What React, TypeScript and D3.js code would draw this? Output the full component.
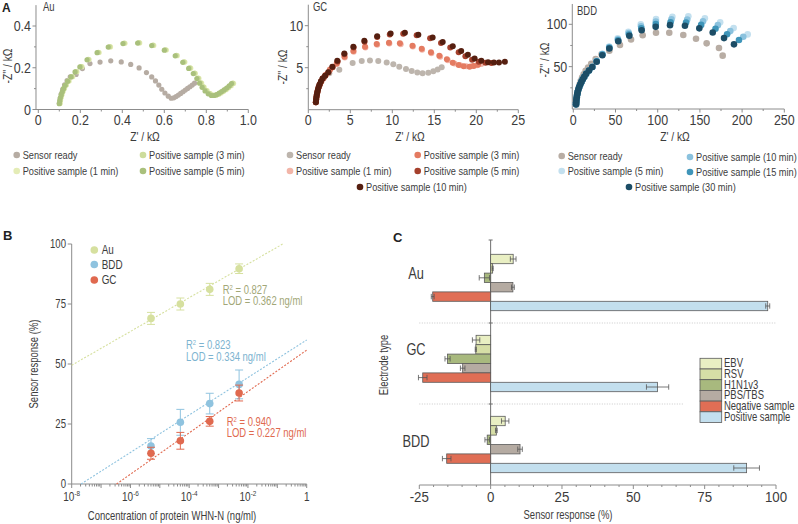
import React from 'react';
import * as d3 from 'd3';

type Pt = [number, number];
const FONT = "'Liberation Sans',Arial,sans-serif";
const TXT = '#3c3c3c';
const AX = '#8c8c8c';

// ---------------- Panel A : Au ----------------
const auNames = ['Sensor ready', 'Positive sample (1 min)', 'Positive sample (3 min)', 'Positive sample (5 min)'];
const auColors = ['#b6aca3', '#e4ecb6', '#cddc9c', '#a9c07c'];
const auSensorReady: Pt[] = [[0.100,0.030],[0.104,0.052],[0.109,0.074],[0.116,0.096],[0.125,0.118],[0.137,0.138],[0.152,0.156],[0.180,0.168],[0.210,0.196],[0.246,0.220],[0.294,0.227],[0.345,0.233],[0.395,0.228],[0.440,0.216],[0.480,0.199],[0.515,0.177],[0.540,0.156],[0.558,0.137],[0.574,0.117],[0.588,0.097],[0.603,0.079],[0.619,0.064],[0.633,0.054],[0.645,0.056],[0.656,0.062],[0.667,0.069],[0.678,0.077],[0.689,0.085],[0.700,0.093],[0.711,0.101],[0.722,0.109],[0.733,0.117],[0.744,0.126]];
const au1min: Pt[] = [[0.104,0.029],[0.106,0.043],[0.109,0.057],[0.113,0.071],[0.118,0.086],[0.125,0.101],[0.134,0.117],[0.147,0.136],[0.164,0.157],[0.184,0.181],[0.208,0.205],[0.242,0.239],[0.290,0.273],[0.344,0.300],[0.413,0.317],[0.483,0.319],[0.550,0.307],[0.610,0.285],[0.662,0.258],[0.698,0.227],[0.726,0.198],[0.748,0.173],[0.765,0.149],[0.778,0.127],[0.790,0.107],[0.804,0.090],[0.819,0.076],[0.834,0.068],[0.847,0.068],[0.859,0.072],[0.871,0.079],[0.883,0.087],[0.895,0.095],[0.907,0.104],[0.919,0.114],[0.930,0.125]];
const au3min: Pt[] = [[0.102,0.029],[0.104,0.043],[0.107,0.057],[0.111,0.071],[0.116,0.086],[0.122,0.101],[0.131,0.117],[0.143,0.137],[0.160,0.158],[0.180,0.182],[0.204,0.206],[0.238,0.240],[0.286,0.274],[0.340,0.301],[0.409,0.318],[0.479,0.320],[0.546,0.308],[0.606,0.286],[0.658,0.259],[0.694,0.228],[0.722,0.199],[0.744,0.174],[0.761,0.150],[0.774,0.128],[0.786,0.108],[0.800,0.091],[0.815,0.077],[0.830,0.069],[0.843,0.069],[0.855,0.073],[0.867,0.080],[0.879,0.088],[0.891,0.096],[0.903,0.105],[0.915,0.115],[0.926,0.126]];
const au5min: Pt[] = [[0.100,0.028],[0.102,0.042],[0.105,0.056],[0.109,0.070],[0.114,0.085],[0.120,0.100],[0.128,0.116],[0.140,0.135],[0.156,0.156],[0.175,0.180],[0.198,0.204],[0.232,0.238],[0.280,0.272],[0.333,0.299],[0.403,0.316],[0.473,0.318],[0.540,0.306],[0.600,0.284],[0.652,0.257],[0.688,0.226],[0.716,0.197],[0.738,0.172],[0.755,0.148],[0.768,0.126],[0.780,0.106],[0.794,0.089],[0.809,0.075],[0.824,0.067],[0.837,0.067],[0.849,0.071],[0.861,0.078],[0.873,0.086],[0.885,0.094],[0.897,0.103],[0.909,0.113],[0.920,0.124]];

// ---------------- Panel A : GC ----------------
const gcNames = ['Sensor ready', 'Positive sample (1 min)', 'Positive sample (3 min)', 'Positive sample (5 min)', 'Positive sample (10 min)'];
const gcColors = ['#bdb5ad', '#f2b5a8', '#e47b61', '#a5402c', '#561f10'];
const gcSensorReady: Pt[] = [[0.9,0.9],[0.95,1.3],[1.0,1.7],[1.08,2.1],[1.17,2.5],[1.3,2.9],[1.5,3.3],[1.8,3.7],[2.5,4.33],[3.69,4.75],[5.28,5.55],[6.36,5.8],[7.34,5.85],[8.33,5.8],[9.33,5.62],[10.12,5.4],[10.83,5.12],[11.63,4.85],[12.31,4.6],[12.98,4.42],[13.6,4.33],[14.29,4.4],[14.88,4.58],[15.4,4.8],[15.88,5.05]];
const gc1min: Pt[] = [[0.9,0.9],[0.93,1.2],[0.97,1.5],[1.02,1.8],[1.08,2.1],[1.15,2.4],[1.25,2.7],[1.37,3.0],[1.55,3.35],[1.8,3.75],[2.1,4.15],[2.6,4.75],[3.4,5.45],[4.35,6.2],[5.4,6.9],[6.8,7.4],[8.2,7.72],[9.65,7.88],[11.0,7.8],[12.45,7.52],[13.55,7.15],[14.65,6.72],[15.7,6.3],[16.6,5.88],[17.4,5.5],[18.1,5.28],[18.8,5.18],[19.5,5.2],[20.1,5.3],[20.6,5.45]];
const gc3min: Pt[] = [[0.9,0.9],[0.93,1.2],[0.97,1.5],[1.02,1.8],[1.08,2.1],[1.15,2.4],[1.25,2.7],[1.37,3.0],[1.55,3.35],[1.8,3.75],[2.1,4.15],[2.58,4.8],[3.38,5.5],[4.3,6.3],[5.36,7.0],[6.75,7.5],[8.14,7.82],[9.6,7.98],[10.9,7.9],[12.4,7.62],[13.5,7.26],[14.6,6.83],[15.6,6.43],[16.5,6.0],[17.2,5.6],[17.9,5.32],[18.5,5.17],[19.2,5.12],[19.7,5.2],[20.2,5.36]];
const gc5min: Pt[] = [[0.9,0.9],[0.93,1.2],[0.97,1.5],[1.02,1.8],[1.08,2.1],[1.15,2.4],[1.24,2.7],[1.35,3.0],[1.5,3.35],[1.7,3.7],[2.0,4.05],[2.4,4.45],[2.9,5.05],[3.5,5.75],[4.3,6.6],[5.4,7.4],[6.7,8.1],[8.2,8.65],[9.7,8.95],[11.3,9.05],[12.9,8.85],[14.5,8.5],[15.8,7.95],[16.9,7.4],[17.9,6.85],[18.7,6.35],[19.5,5.95],[20.3,5.7],[21.1,5.58],[21.8,5.55]];
const gc10min: Pt[] = [[0.9,0.9],[0.93,1.2],[0.97,1.5],[1.02,1.8],[1.08,2.1],[1.15,2.4],[1.24,2.7],[1.35,3.0],[1.5,3.35],[1.7,3.7],[2.0,4.05],[2.38,4.45],[2.86,5.1],[3.45,5.83],[4.29,6.7],[5.36,7.5],[6.67,8.2],[8.2,8.75],[9.8,9.08],[11.5,9.15],[13.1,8.93],[14.8,8.6],[16.0,8.05],[17.2,7.55],[18.2,7.0],[19.0,6.55],[19.8,6.1],[20.6,5.82],[21.4,5.65],[22.1,5.62],[22.7,5.62],[23.4,5.7]];

// ---------------- Panel A : BDD ----------------
const bddNames = ['Sensor ready', 'Positive sample (5 min)', 'Positive sample (10 min)', 'Positive sample (15 min)', 'Positive sample (30 min)'];
const bddColors = ['#b8ada4', '#c3e0ef', '#8bc2de', '#3f95b9', '#1c4d66'];
const bddSensorReady: Pt[] = [[3.5,5],[3.8,9],[4.2,13],[4.8,17],[5.5,21],[6.4,25],[7.5,29],[8.8,33],[10.4,37],[12.3,41],[14.6,45],[17.5,49],[21.2,53.5],[26.5,59],[33.5,64.5],[42.7,68.8],[55.3,75.5],[68.4,82],[82.2,87],[98,90],[113.7,90],[130.3,87.3],[145.4,83],[158,77.5],[172.6,72],[177,63]];
const bdd5min: Pt[] = [[3.2,5.5],[3.4,8],[3.7,11],[4.1,14],[4.6,17],[5.2,20],[6.0,23],[7.0,26],[8.2,29],[9.6,32],[11.2,35],[13.0,38],[15.2,41.5],[18.6,45.5],[22.5,49.8],[27.7,57],[34.4,65.3],[42.5,73.6],[52.6,83.4],[65.2,91.2],[79.9,99.9],[98,106.1],[117.4,108.8],[136.3,109.5],[155.9,107],[174,102.5],[190,95.5],[206.6,88.1]];
const bdd10min: Pt[] = [[3.2,5.5],[3.4,8],[3.7,11],[4.1,14],[4.6,17],[5.2,20],[6.0,23],[7.0,26],[8.2,29],[9.6,32],[11.2,35],[13.0,38],[15.2,41.5],[18.6,45.5],[22.5,49.7],[27.7,56.6],[34.4,64.8],[42.6,73],[52.9,82.3],[65.6,89.7],[80.3,97.6],[97.8,103.2],[116.3,105.8],[135,105.6],[153.7,103.5],[171.3,99],[186,92],[201.4,85.3]];
const bdd15min: Pt[] = [[3.2,5.5],[3.4,8],[3.7,11],[4.1,14],[4.6,17],[5.2,20],[6.0,23],[7.0,26],[8.2,29],[9.6,32],[11.2,35],[13.0,38],[15.2,41.5],[18.6,45.5],[22.5,49.6],[27.7,56.3],[34.4,64.3],[42.7,72.3],[53.1,81.2],[66,88],[80.6,95.3],[97.7,100.2],[115.2,102.3],[133.6,102],[151.5,99.3],[168.5,94.8],[182.2,88.3],[196.3,81.4]];
const bdd30min: Pt[] = [[3.2,5.5],[3.4,8],[3.7,11],[4.1,14],[4.6,17],[5.2,20],[6.0,23],[7.0,26],[8.2,29],[9.6,32],[11.2,35],[13.0,38],[15.2,41.5],[18.6,45.5],[22.5,49.5],[27.7,55.8],[34.4,63.5],[42.7,71.5],[53.3,80],[66.4,86.5],[81,93],[97.6,97],[114.6,99],[132.3,98.2],[149.3,95.2],[165.2,90.4],[178.6,83.7],[190.4,76.3]];

// ---------------- Panel B ----------------
const bConc = [5e-6, 5e-5, 5e-4, 5e-3];
const bSeries = ['Au', 'BDD', 'GC'];
const bColors = ['#d6e09f', '#8fc3df', '#e0694f'];
const bTextColors = ['#a2a777', '#7db3cf', '#e0694f'];
const bAu = [69.0, 75.0, 81.1, 89.7];
const bAuErr = [2.5, 2.5, 2.5, 2.0];
const bBDD = [15.8, 25.7, 33.5, 41.5];
const bBDDErr = [3.1, 5.4, 4.3, 6.0];
const bGC = [12.8, 18.0, 26.1, 37.9];
const bGCErr = [2.5, 3.5, 2.0, 3.3];
const bFitSlope = [7.03, 7.81, 8.62];      // % per decade
const bFitAtOne = [105.74, 60.0, 55.8];    // value at 1 ng/ml
const bR2 = ['0.827', '0.823', '0.940'];
const bLOD = ['0.362', '0.334', '0.227'];
const bXTicks = [-8, -6, -4, -2, 0];
const bYTicks = [0, 25, 50, 75, 100];

// ---------------- Panel C ----------------
const cGroups = ['Au', 'GC', 'BDD'];
const cCats = ['EBV', 'RSV', 'H1N1v3', 'PBS/TBS', 'Negative sample', 'Positive sample'];
const cColors = ['#e9efc3', '#d6dea6', '#a8b97e', '#b5aba2', '#e06e55', '#c3dfee'];
const cAu = [7.9, 0.7, -2.2, 7.8, -20.3, 97.1];
const cAuErr = [1.0, 0.2, 1.8, 0.5, 0.5, 0.7];
const cGC = [-5.1, -5.2, -15.1, -9.8, -23.8, 58.5];
const cGCErr = [1.3, 0.2, 0.9, 0.8, 1.5, 3.9];
const cBDD = [5.1, 2.0, -1.2, 10.3, -15.4, 89.7];
const cBDDErr = [1.3, 0.3, 0.8, 0.8, 1.5, 4.5];
const cXTicks = [-25, 0, 25, 50, 75, 100];

// condensed text: Liberation Sans squeezed horizontally
function T(props: { x: number; y: number; size: number; anchor?: string; fill?: string; sx?: number; rot?: number; weight?: string; children: React.ReactNode }) {
  const { x, y, size, anchor = 'start', fill = TXT, sx = 0.79, rot = 0, weight, children } = props;
  return (
    <text transform={`translate(${x},${y}) rotate(${rot}) scale(${sx},1)`} fontSize={size} textAnchor={anchor as any} fill={fill} fontWeight={weight}>
      {children}
    </text>
  );
}

type NyqProps = {
  series: Pt[][]; colors: string[]; names: string[]; r: number; order: number[];
  xDom: [number, number]; xRange: [number, number]; yDom: [number, number]; yRange: [number, number];
  xExt: [number, number]; yExt: [number, number];
  xMajor: number[]; xMinor: number[]; yMajor: number[]; yMinor: number[];
  fmt: (v: number) => string; title: string; titlePos: [number, number];
  yLab: [number, number]; xLab: [number, number];
  legend: [number, number][];
};

function Nyquist(p: NyqProps) {
  const x = d3.scaleLinear().domain(p.xDom).range(p.xRange);
  const y = d3.scaleLinear().domain(p.yDom).range(p.yRange);
  const yb = y(p.yExt[0]);
  const xl = x(p.xExt[0]);
  return (
    <g>
      <line x1={xl} x2={x(p.xExt[1])} y1={yb} y2={yb} stroke={AX} strokeWidth={1} />
      <line x1={xl} x2={xl} y1={yb} y2={y(p.yExt[1])} stroke={AX} strokeWidth={1} />
      {p.xMajor.map(v => (
        <g key={'xm' + v}>
          <line x1={x(v)} x2={x(v)} y1={yb} y2={yb + 3.5} stroke={AX} />
          <T x={x(v)} y={yb + 15.5} anchor="middle" size={14.5} sx={0.86}>{p.fmt(v)}</T>
        </g>
      ))}
      {p.xMinor.map(v => <line key={'xn' + v} x1={x(v)} x2={x(v)} y1={yb} y2={yb + 2} stroke={AX} />)}
      {p.yMajor.map(v => (
        <g key={'ym' + v}>
          <line x1={xl - 3.5} x2={xl} y1={y(v)} y2={y(v)} stroke={AX} />
          <T x={xl - 5} y={y(v) + 5} anchor="end" size={14.5} sx={0.86}>{p.fmt(v)}</T>
        </g>
      ))}
      {p.yMinor.map(v => <line key={'yn' + v} x1={xl - 2} x2={xl} y1={y(v)} y2={y(v)} stroke={AX} />)}
      <T x={p.titlePos[0]} y={p.titlePos[1]} size={12}>{p.title}</T>
      <T x={p.yLab[0]} y={p.yLab[1]} rot={-90} anchor="middle" size={13}>-Z'' / kΩ</T>
      <T x={p.xLab[0]} y={p.xLab[1]} anchor="middle" size={13}>Z' / kΩ</T>
      {p.order.map(si => (
        <g key={'s' + si}>
          {p.series[si].map((d, i) => <circle key={i} cx={x(d[0])} cy={y(d[1])} r={p.r} fill={p.colors[si]} />)}
        </g>
      ))}
      {p.names.map((n, i) => (
        <g key={'lg' + i}>
          <circle cx={p.legend[i][0]} cy={p.legend[i][1]} r={3.3} fill={p.colors[i]} />
          <T x={p.legend[i][0] + 6} y={p.legend[i][1] + 4} size={11.8} sx={0.78}>{n}</T>
        </g>
      ))}
    </g>
  );
}

function PanelB() {
  const x = d3.scaleLog().domain([1e-8, 1]).range([71.7, 306.7]);
  const y = d3.scaleLinear().domain([0, 100]).range([484, 244]);
  const vals = [bAu, bBDD, bGC];
  const errs = [bAuErr, bBDDErr, bGCErr];
  const minor: number[] = [];
  for (let d = -8; d < 0; d++) for (let k = 2; k <= 9; k++) minor.push(k * Math.pow(10, d));
  const major = d3.range(-8, 1).map(d => Math.pow(10, d));
  const fits = bSeries.map((_, i) => {
    const f = (lg: number) => bFitAtOne[i] + bFitSlope[i] * lg;
    let lo = -8, hi = 0;
    if (f(lo) < 0) lo = -bFitAtOne[i] / bFitSlope[i];
    if (f(hi) > 100) hi = (100 - bFitAtOne[i]) / bFitSlope[i];
    return [[Math.pow(10, lo), f(lo)], [Math.pow(10, hi), f(hi)]] as Pt[];
  });
  const line = d3.line<Pt>().x(d => x(d[0])).y(d => y(d[1]));
  const annot: [number, number][] = [[222.7, 293.5], [186, 349], [226.7, 425.7]];
  const legY = [250, 264.5, 280];
  return (
    <g>
      <text x={3} y={240} fontSize={13} fontWeight="bold" fill="#222">B</text>
      <line x1={71.7} x2={306.7} y1={484} y2={484} stroke={AX} />
      <line x1={71.7} x2={71.7} y1={484} y2={244} stroke={AX} />
      {major.map((v, i) => <line key={'M' + i} x1={x(v)} x2={x(v)} y1={484} y2={488} stroke={AX} />)}
      {minor.map((v, i) => <line key={'m' + i} x1={x(v)} x2={x(v)} y1={484} y2={486.5} stroke={AX} />)}
      {bXTicks.map(t => (
        <T key={'xt' + t} x={x(Math.pow(10, t))} y={501} anchor="middle" size={12.5} sx={0.8}>
          {t === 0 ? '1' : <>10<tspan dy={-5} fontSize={8}>{String(t)}</tspan></>}
        </T>
      ))}
      {bYTicks.map(t => (
        <g key={'yt' + t}>
          <line x1={67.7} x2={71.7} y1={y(t)} y2={y(t)} stroke={AX} />
          <T x={66} y={y(t) + 4.2} anchor="end" size={12} sx={0.8}>{t}</T>
        </g>
      ))}
      <T x={38} y={364} rot={-90} anchor="middle" size={12}>Sensor response (%)</T>
      <T x={172} y={520} anchor="middle" size={12}>Concentration of protein WHN-N  (ng/ml)</T>
      {fits.map((f, i) => <path key={'f' + i} d={line(f) || ''} stroke={bColors[i]} strokeWidth={1.1} strokeDasharray="2,1.6" fill="none" />)}
      {vals.map((vs, si) => (
        <g key={'ser' + si}>
          {vs.map((v, j) => {
            const cx = x(bConc[j]);
            const e = errs[si][j];
            return (
              <g key={j}>
                <line x1={cx} x2={cx} y1={y(v - e)} y2={y(v + e)} stroke={bColors[si]} strokeWidth={1} />
                <line x1={cx - 4} x2={cx + 4} y1={y(v - e)} y2={y(v - e)} stroke={bColors[si]} strokeWidth={1} />
                <line x1={cx - 4} x2={cx + 4} y1={y(v + e)} y2={y(v + e)} stroke={bColors[si]} strokeWidth={1} />
                <circle cx={cx} cy={y(v)} r={3.8} fill={bColors[si]} />
              </g>
            );
          })}
        </g>
      ))}
      {bSeries.map((s, i) => (
        <g key={'bl' + s}>
          <T x={annot[i][0]} y={annot[i][1]} size={12} fill={bTextColors[i]}>R<tspan dy={-4} fontSize={7.5}>2</tspan><tspan dy={4}> = {bR2[i]}</tspan></T>
          <T x={annot[i][0]} y={annot[i][1] + 11.5} size={12} fill={bTextColors[i]}>LOD = {bLOD[i]} ng/ml</T>
          <circle cx={94.3} cy={legY[i]} r={3.8} fill={bColors[i]} />
          <T x={101.7} y={legY[i] + 4} size={12.5}>{s}</T>
        </g>
      ))}
    </g>
  );
}

function PanelC() {
  const x = d3.scaleLinear().domain([-25, 100]).range([419.3, 776]);
  const yg = d3.scaleBand<string>().domain(cGroups).range([242, 485]);
  const inner = d3.scaleBand<string>().domain(cCats).range([0, 56.4]);
  const vals = [cAu, cGC, cBDD];
  const errs = [cAuErr, cGCErr, cBDDErr];
  const labelDy = [-4, -9, 2.5];
  const bh = inner.bandwidth();
  const off = (yg.bandwidth() - 56.4) / 2;
  const minor = d3.range(-25, 101, 5).filter(v => v % 25 !== 0);
  const x0 = x(0);
  return (
    <g>
      <text x={393} y={241.5} fontSize={13} fontWeight="bold" fill="#222">C</text>
      {cGroups.slice(1).map((g, i) => (
        <line key={'sep' + g} x1={x(-25)} x2={i === 0 ? x(100) : 683} y1={yg(g)!} y2={yg(g)!} stroke="#c8c8c8" strokeDasharray="1,1.5" />
      ))}
      <line x1={x0} x2={x0} y1={240} y2={485} stroke="#6e6e6e" />
      {[240, ...cGroups.slice(1).map(g => yg(g)!)].map((v, i) => <line key={'zt' + i} x1={x0 - 2} x2={x0 + 2} y1={v} y2={v} stroke="#6e6e6e" />)}
      <line x1={x(-25)} x2={x(100)} y1={485} y2={485} stroke={AX} />
      {cXTicks.map(t => (
        <g key={'ct' + t}>
          <line x1={x(t)} x2={x(t)} y1={485} y2={489} stroke={AX} />
          <T x={x(t)} y={502} anchor="middle" size={14} sx={0.95}>{t}</T>
        </g>
      ))}
      {minor.map(t => <line key={'cm' + t} x1={x(t)} x2={x(t)} y1={485} y2={487} stroke={AX} />)}
      <T x={568} y={519} anchor="middle" size={12}>Sensor response (%)</T>
      <T x={388} y={365} rot={-90} anchor="middle" size={12}>Electrode type</T>
      {cGroups.map((g, gi) => (
        <g key={'grp' + g}>
          <T x={416} y={yg(g)! + yg.bandwidth() / 2 + labelDy[gi]} anchor="middle" size={16} sx={0.8}>{g}</T>
          {cCats.map((c, ci) => {
            const v = vals[gi][ci];
            const e = errs[gi][ci];
            const yy = yg(g)! + off + inner(c)!;
            const xa = Math.min(x(v), x0);
            return (
              <g key={c}>
                <rect x={xa} y={yy} width={Math.abs(x(v) - x0)} height={bh} fill={cColors[ci]} stroke="#5a5a5a" strokeWidth={0.8} />
                <line x1={x(v - e)} x2={x(v + e)} y1={yy + bh / 2} y2={yy + bh / 2} stroke="#555" strokeWidth={0.8} />
                <line x1={x(v - e)} x2={x(v - e)} y1={yy + 2} y2={yy + bh - 2} stroke="#555" strokeWidth={0.8} />
                <line x1={x(v + e)} x2={x(v + e)} y1={yy + 2} y2={yy + bh - 2} stroke="#555" strokeWidth={0.8} />
              </g>
            );
          })}
        </g>
      ))}
      {cCats.map((c, i) => (
        <g key={'cl' + c}>
          <rect x={700} y={358.3 + i * 10.7} width={21.7} height={10.7} fill={cColors[i]} stroke="#5a5a5a" strokeWidth={0.8} />
          <T x={724} y={358.3 + i * 10.7 + 9} size={12}>{c}</T>
        </g>
      ))}
    </g>
  );
}

export default function App() {
  const fmt1 = (v: number) => (v === 0 ? '0' : v.toFixed(1));
  const fmt0 = (v: number) => String(v);
  return (
    <svg width={798} height={524} style={{ position: 'absolute', left: 0, top: 0 }} fontFamily={FONT}>
      <rect width={798} height={524} fill="#fff" />
      <text x={2} y={12} fontSize={12} fontWeight="bold" fill="#222">A</text>
      <Nyquist
        series={[auSensorReady, au1min, au3min, au5min]} colors={auColors} names={auNames} r={2.6} order={[0, 1, 2, 3]}
        xDom={[0, 1]} xRange={[38.3, 248.3]} yDom={[0, 0.4]} yRange={[109.5, 26]}
        xExt={[-0.011, 1.0]} yExt={[0, 0.5]}
        xMajor={[0, 0.2, 0.4, 0.6, 0.8, 1.0]} xMinor={[0.1, 0.3, 0.5, 0.7, 0.9]} yMajor={[0, 0.2, 0.4]} yMinor={[0.1, 0.3]}
        fmt={fmt1} title="Au" titlePos={[43, 11]} yLab={[12, 66]} xLab={[145, 141]}
        legend={[[16.7, 155], [16.7, 171], [143, 155], [143, 171]]}
      />
      <Nyquist
        series={[gcSensorReady, gc1min, gc3min, gc5min, gc10min]} colors={gcColors} names={gcNames} r={3} order={[0, 1, 2, 3, 4]}
        xDom={[0, 25]} xRange={[308.3, 518.3]} yDom={[0, 10]} yRange={[109.7, 25.7]}
        xExt={[0, 25]} yExt={[0, 12.5]}
        xMajor={[0, 5, 10, 15, 20, 25]} xMinor={[2.5, 7.5, 12.5, 17.5, 22.5]} yMajor={[5, 10]} yMinor={[2.5, 7.5]}
        fmt={fmt0} title="GC" titlePos={[313, 11]} yLab={[287, 67]} xLab={[410, 141]}
        legend={[[290, 155], [290, 171], [417.7, 155], [417.7, 171], [360, 187]]}
      />
      <Nyquist
        series={[bddSensorReady, bdd5min, bdd10min, bdd15min, bdd30min]} colors={bddColors} names={bddNames} r={3.3} order={[0, 1, 2, 3, 4]}
        xDom={[0, 250]} xRange={[573.3, 784.3]} yDom={[0, 100]} yRange={[109, 24.3]}
        xExt={[-1.2, 250]} yExt={[0, 124]}
        xMajor={[0, 50, 100, 150, 200, 250]} xMinor={[25, 75, 125, 175, 225]} yMajor={[50, 100]} yMinor={[25, 75]}
        fmt={fmt0} title="BDD" titlePos={[577, 15]} yLab={[549, 60]} xLab={[675, 141]}
        legend={[[561.7, 156], [561.7, 171], [690, 157], [690, 172], [629, 187]]}
      />
      <PanelB />
      <PanelC />
    </svg>
  );
}
